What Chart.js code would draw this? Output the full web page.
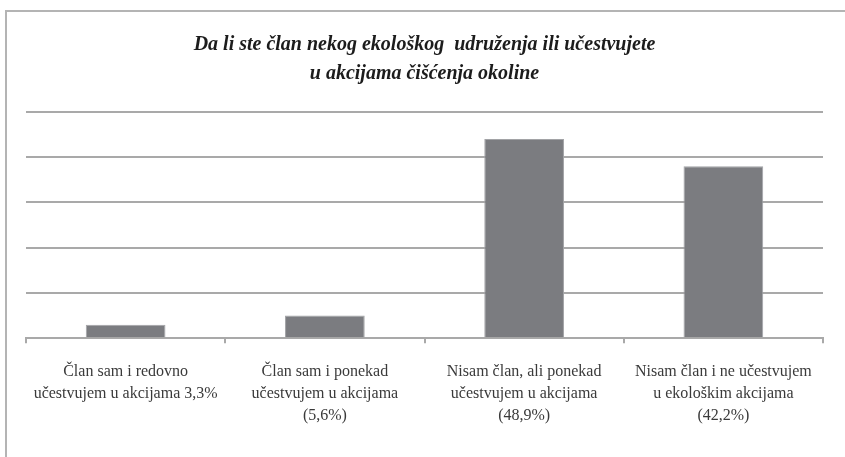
<!DOCTYPE html>
<html>
<head>
<meta charset="utf-8">
<script src="https://cdn.jsdelivr.net/npm/chart.js@4"></script>
<style>
  html, body { margin: 0; padding: 0; background: #fff; }
  body { width: 845px; height: 457px; overflow: hidden; position: relative; }
  .frame { position: absolute; left: 5px; top: 10px; width: 860px; height: 470px;
           border-left: 2px solid #b4b4b4; border-top: 2px solid #b4b4b4; }
  canvas { position: absolute; left: 0; top: 0; }
</style>
</head>
<body>
<div class="frame"></div>
<canvas id="chart" width="845" height="457"></canvas>
<script>
const titleLines = ['Da li ste član nekog ekološkog  udruženja ili učestvujete', 'u akcijama čišćenja okoline'];
const categories = [
	['Član sam i redovno', 'učestvujem u akcijama 3,3%'],
	['Član sam i ponekad', 'učestvujem u akcijama', '(5,6%)'],
	['Nisam član, ali ponekad', 'učestvujem u akcijama', '(48,9%)'],
	['Nisam član i ne učestvujem', 'u ekološkim akcijama', '(42,2%)']
];
const values = [3.3, 5.6, 48.9, 42.2];
const yGridTicks = [0, 11.1, 22.2, 33.3, 44.4, 55.5];

const gridGray = '#a9a9a9';

const ctx = document.getElementById('chart').getContext('2d');
new Chart(ctx, {
	type: 'bar',
	data: {
		labels: categories,
		datasets: [{
			data: values,
			backgroundColor: '#7b7c80',
			borderColor: '#a2a3a6',
			borderWidth: 1,
			categoryPercentage: 1,
			barPercentage: 0.4
		}]
	},
	options: {
		responsive: false,
		animation: false,
		layout: { padding: { left: 26, right: 22, top: 0, bottom: 12 } },
		plugins: {
			legend: { display: false },
			tooltip: { enabled: false },
			title: {
				display: true,
				text: titleLines,
				color: '#1c1c1c',
				font: { family: 'Liberation Serif', size: 20, style: 'italic', weight: 'bold', lineHeight: 1.45 },
				padding: { top: 30, bottom: 24 }
			}
		},
		scales: {
			x: {
				grid: { drawOnChartArea: false, drawTicks: true, tickLength: 5, color: gridGray, lineWidth: 2 },
				border: { display: true, color: gridGray, width: 2 },
				ticks: {
					color: '#3a3a3a',
					padding: 18,
					maxRotation: 0,
					autoSkip: false,
					font: { family: 'Liberation Serif', size: 16, lineHeight: 1.37 }
				}
			},
			y: {
				min: 0,
				max: 55.5,
				afterBuildTicks: (axis) => { axis.ticks = yGridTicks.map(v => ({ value: v })); },
				grid: { color: gridGray, lineWidth: 2, drawTicks: false },
				border: { display: false },
				ticks: { display: false }
			}
		}
	}
});
</script>
</body>
</html>
